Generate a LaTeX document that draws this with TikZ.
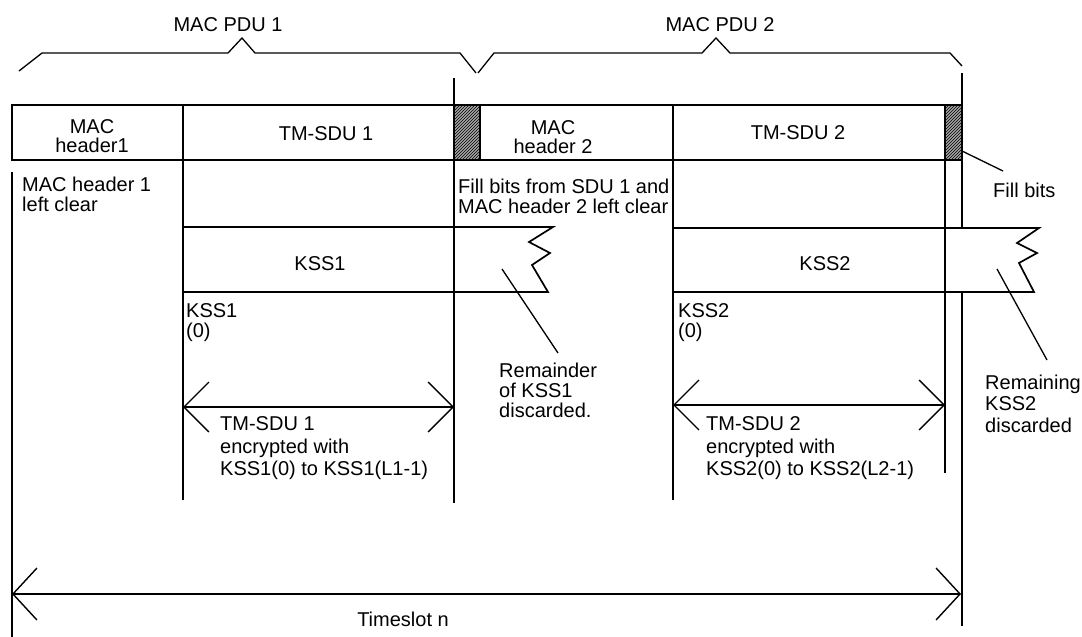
\documentclass[tikz,border=0pt]{standalone}
\usepackage{fontspec}
\setmainfont{Liberation Sans}
\usetikzlibrary{arrows.meta,patterns}
\begin{document}
\begin{tikzpicture}[x=1pt,y=-1pt,
  ln/.style={line width=1.3pt, line join=miter},
  boxln/.style={line width=1.7pt},
  dim/.style={line width=1.4pt, {Straight Barb[length=25pt,width=50pt]}-{Straight Barb[length=25pt,width=50pt]}},
  tdim/.style={line width=1.4pt, {Straight Barb[length=24pt,width=52pt]}-{Straight Barb[length=24pt,width=52pt]}},
  txt/.style={font=\fontsize{20}{20}\selectfont, inner sep=0pt, align=left, anchor=north west},
  ctxt/.style={font=\fontsize{20}{19}\selectfont, inner sep=0pt, align=center, anchor=base},
  hatch/.style={fill=gray!70, postaction={pattern=north east lines, pattern color=black}},
]
\fill[white] (0,0) rectangle (1082,637);
\useasboundingbox (0,0) rectangle (1082,637);

% braces
\draw[ln] (19,71) -- (42,53) -- (228,53) -- (242,38) -- (255,53) -- (460,53) -- (476,73);
\draw[ln] (478,73) -- (494,53) -- (702,53) -- (716,38) -- (730,53) -- (950,53) -- (962,66);
\node[ctxt] (pdu1) at (228,31) {MAC PDU 1};
\node[ctxt] (pdu2) at (720,31) {MAC PDU 2};

% KSS boxes
\filldraw[boxln, fill=white] (183,227) -- (553,227) -- (529,242) -- (550,253) -- (532,265) -- (548,292) -- (183,292) -- cycle;
\filldraw[boxln, fill=white] (673,228) -- (1039,228) -- (1017,243) -- (1037,253) -- (1019,263) -- (1034,292) -- (673,292) -- cycle;
\node[ctxt] (kss1) at (320,270) {KSS1};
\node[ctxt] (kss2) at (825,270) {KSS2};

% top row
\path[hatch] (454,105) rectangle (480,160);
\path[hatch] (945,105) rectangle (962,160);
\draw[boxln] (12,105) rectangle (962,160);
\foreach \xx in {183,454,480,673,945} \draw[boxln] (\xx,105) -- (\xx,160);
\node[ctxt] (mh1) at (92,152) {MAC\\header1};
\node[ctxt] (sdu1) at (326,140) {TM-SDU 1};
\node[ctxt] (mh2) at (553,153) {MAC\\header 2};
\node[ctxt] (sdu2) at (798,139) {TM-SDU 2};

% vertical lines
\coordinate (v12a) at (12,172);   \coordinate (v12b) at (12,637);
\coordinate (v183a) at (183,160); \coordinate (v183b) at (183,500);
\coordinate (v454a) at (454,78);  \coordinate (v454b) at (454,503);
\coordinate (v673a) at (673,160); \coordinate (v673b) at (673,500);
\coordinate (v945a) at (945,160); \coordinate (v945b) at (945,473);
\coordinate (v962a) at (962,73);  \coordinate (v962b) at (962,227);
\coordinate (v962c) at (962,293); \coordinate (v962d) at (962,626);
\draw[ln] (v12a) -- (v12b);
\draw[ln] (v183a) -- (v183b);
\draw[ln] (v454a) -- (v454b);
\draw[line width=2.2pt] (454,227) -- (454,292);
\draw[ln] (v673a) -- (v673b);
\draw[ln] (v945a) -- (v945b);
\draw[ln] (v962a) -- (v962b);
\draw[ln] (v962c) -- (v962d);

% dimension arrows
\coordinate (a1l) at (183,407); \coordinate (a1r) at (454,407);
\coordinate (a2l) at (673,405); \coordinate (a2r) at (945,405);
\coordinate (tl) at (12,594);   \coordinate (tr) at (961,594);
\draw[dim] (a1l) -- (a1r);
\draw[dim] (a2l) -- (a2r);
\draw[tdim] (tl) -- (tr);

% leaders
\coordinate (f1) at (962,151); \coordinate (f2) at (1003,171);
\coordinate (r1a) at (502,269); \coordinate (r1b) at (558,353);
\coordinate (r2a) at (997,269); \coordinate (r2b) at (1047,360);
\draw[ln] (f1) -- (f2);
\draw[ln] (r1a) -- (r1b);
\draw[ln] (r2a) -- (r2b);

% texts
\node[txt] (mh1clear) at (22,176.6) {MAC header 1\\left clear};
\node[txt] (fillsdu) at (458,178.6) {Fill bits from SDU 1 and\\MAC header 2 left clear};
\node[txt] (fillbits) at (993,182.6) {Fill bits};
\node[txt] (kss1zero) at (186,303.6) {KSS1\\(0)};
\node[txt] (kss2zero) at (678,303.6) {KSS2\\(0)};
\node[txt] (rem1) at (499,362.6) {Remainder\\of KSS1\\discarded.};
\node[txt, font=\fontsize{20}{21.5}\selectfont] (rem2) at (985,374.6) {Remaining\\KSS2\\discarded};
\node[txt, font=\fontsize{20}{22.5}\selectfont] (enc1) at (220,416.6) {TM-SDU 1\\encrypted with\\KSS1(0) to KSS1(L1-1)};
\node[txt, font=\fontsize{20}{22.5}\selectfont] (enc2) at (706,416.6) {TM-SDU 2\\encrypted with\\KSS2(0) to KSS2(L2-1)};
\node[ctxt] (ts) at (403,626) {Timeslot n};
\end{tikzpicture}
\end{document}
